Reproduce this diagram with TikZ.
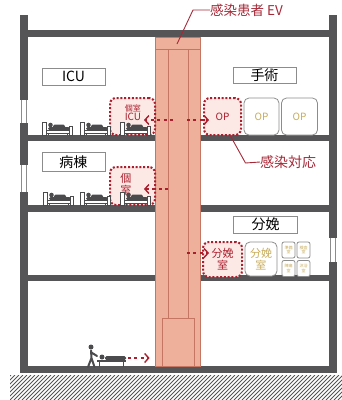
\documentclass[tikz,border=0pt]{standalone}
\usepackage{fontspec}
\setmainfont{Noto Sans CJK JP}
\usetikzlibrary{arrows.meta}

\definecolor{wallgray}{RGB}{85,85,88}
\definecolor{boxgray}{RGB}{140,140,140}
\definecolor{bedgray}{RGB}{75,75,78}
\definecolor{shaftfill}{RGB}{238,176,155}
\definecolor{shaftline}{RGB}{196,118,98}
\definecolor{infred}{RGB}{170,30,45}
\definecolor{infpink}{RGB}{252,232,228}
\definecolor{labelred}{RGB}{165,40,55}
\definecolor{optext}{RGB}{200,172,90}

\begin{document}
\begin{tikzpicture}[x=1pt, y=-1pt,
    areabox/.style={draw=boxgray, fill=white, line width=0.8pt, minimum width=63pt, minimum height=17pt, inner sep=0pt, font=\fontsize{14}{14}\selectfont},
    roombox/.style={draw=boxgray, fill=white, rounded corners=5pt, line width=0.8pt, inner sep=0pt, text=optext, align=center},
    infbox/.style={draw=infred, fill=infpink, rounded corners=6pt, line width=2pt, dash pattern=on 2pt off 1.8pt, inner sep=0pt, text=infred, align=center},
    infarrow/.style={infred, line width=2.8pt, dash pattern=on 2.8pt off 3.6pt, -{Straight Barb[length=4pt, width=9pt, line width=1.4pt]}},
    leader/.style={draw=labelred, line width=0.9pt},
    sickbed/.pic={
        \draw[draw=bedgray, fill=white, line width=0.5pt] (0,0) rectangle (4,-13);
        \draw[bedgray, line width=0.5pt] (6,-1.5) -- (6,0) (25,-1.5) -- (25,0);
        \draw[draw=bedgray, fill=white, line width=0.5pt] (4,-1.5) rectangle (30,-5);
        \draw[draw=bedgray, fill=white, line width=0.5pt] (27,0) rectangle (30,-9);
        \fill[bedgray, rounded corners=1.5pt] (6,-5) rectangle (28,-8);
        \fill[bedgray] (8.5,-10) circle (2.3);
        \fill[bedgray, rounded corners=1.5pt] (11,-7) rectangle (23,-10.5);
    },
    walker/.pic={
        \fill[bedgray] (4,-20) circle (2.5);
        \draw[bedgray, line width=2pt, line cap=round] (4,-16.5) -- (4.5,-9) -- (1,0) (4.5,-9) -- (7.5,0) (4.5,-14.5) -- (10,-11);
    },
    stretcher/.pic={
        \draw[bedgray, line width=1pt] (2,0) -- (2,-5) (26,0) -- (26,-5);
        \fill[bedgray] (0,-5) rectangle (29,-7);
        \fill[bedgray] (5,-10) circle (2.5);
        \fill[bedgray, rounded corners=1.5pt] (8,-7) rectangle (29,-11);
    }]
    \useasboundingbox (0,0) rectangle (342,400);

    % 地盤
    \begin{scope}
        \clip (10,375) rectangle (342,400);
        \foreach \i in {-30,-26,...,350}
            \draw[wallgray, line width=0.9pt] (\i,400) -- (\i+25,375);
    \end{scope}

    % 外壁と床
    \fill[wallgray] (20,15) rectangle (28,373);
    \fill[wallgray] (329,15) rectangle (337,373);
    \fill[wallgray] (20,30) rectangle (337,37);
    \fill[wallgray] (20,135) rectangle (337,141);
    \fill[wallgray] (20,205) rectangle (337,212);
    \fill[wallgray] (20,275) rectangle (337,281);
    \fill[wallgray] (20,366) rectangle (337,373);

    % 窓
    \foreach \ya/\yb in {100/123, 165/192} {
        \fill[white] (20,\ya) rectangle (28,\yb);
        \draw[boxgray, line width=0.6pt] (21.5,\ya) -- (21.5,\yb) (26.5,\ya) -- (26.5,\yb);
    }
    \fill[white] (329,238) rectangle (337,262);
    \draw[boxgray, line width=0.6pt] (330.5,238) -- (330.5,262) (335.5,238) -- (335.5,262);

    % 感染患者用EV
    \node[draw=shaftline, fill=shaftfill, line width=0.8pt, minimum width=45pt, minimum height=329pt, inner sep=0pt] (ev) at (177.5,201.5) {};
    \draw[shaftline, line width=0.8pt] (155,49) -- (200,49);
    \draw[shaftline, line width=0.8pt] (168,49) -- (168,318) (188,49) -- (188,318);
    \draw[shaftline, line width=0.8pt] (162,318) rectangle (194,366);

    % 見出し
    \node[areabox] (icu) at (73.5,76.5) {ICU};
    \node[areabox, minimum height=16pt] (surgery) at (264.5,75.5) {手術};
    \node[areabox, minimum height=19pt] (ward) at (73.5,162) {病棟};
    \node[areabox, minimum width=64pt] (birth) at (265.5,224.5) {分娩};

    % 手術室
    \node[infbox, minimum width=37pt, minimum height=37pt, font=\fontsize{10}{10}\selectfont] (op1) at (222.5,116.5) {OP};
    \node[roombox, minimum width=35pt, minimum height=37pt, font=\fontsize{10}{10}\selectfont] (op2) at (261.5,116.5) {OP};
    \node[roombox, minimum width=36pt, minimum height=37pt, font=\fontsize{10}{10}\selectfont] (op3) at (299.5,116.5) {OP};

    % 個室
    \node[infbox, minimum width=45pt, minimum height=37pt] (icuroom) at (132.5,116.5) {};
    \node[text=infred, align=center, inner sep=0pt, font=\fontsize{8}{9}\selectfont] (icutext) at (133,112.5) {個室\\\fontsize{10}{10}\selectfont ICU};
    \node[infbox, minimum width=45pt, minimum height=38pt] (private) at (132.5,186) {};
    \node[text=infred, align=center, inner sep=0pt, font=\fontsize{11}{12}\selectfont] (privtext) at (126,184) {個\\室};

    % 分娩室
    \node[infbox, minimum width=39pt, minimum height=35pt, font=\fontsize{11}{12}\selectfont] (lab1) at (222.5,259.5) {分娩\\室};
    \node[roombox, minimum width=32pt, minimum height=34pt, font=\fontsize{11}{12}\selectfont] (lab2) at (261,259) {分娩\\室};
    \node[roombox, rounded corners=2pt, minimum width=13pt, minimum height=16pt, font=\fontsize{4}{4.5}\selectfont] (prep) at (288.5,250) {準備\\室};
    \node[roombox, rounded corners=2pt, minimum width=13pt, minimum height=16pt, font=\fontsize{4}{4.5}\selectfont] (exam) at (303.5,250) {検査\\室};
    \node[roombox, rounded corners=2pt, minimum width=13pt, minimum height=16pt, font=\fontsize{4}{4.5}\selectfont] (labor) at (288.5,268.5) {陣痛\\室};
    \node[roombox, rounded corners=2pt, minimum width=13pt, minimum height=16pt, font=\fontsize{4}{4.5}\selectfont] (bath) at (303.5,268.5) {沐浴\\室};

    % ベッド
    \foreach \bx in {42,80,120}
        \pic at (\bx,135) {sickbed};
    \foreach \bx in {43,80,120}
        \pic at (\bx,205) {sickbed};

    % 搬送
    \pic at (87,367) {walker};
    \pic at (97,367) {stretcher};

    % 動線
    \coordinate (s3l) at (173,120);
    \coordinate (s3r) at (187,120);
    \coordinate (s2l) at (168,189);
    \coordinate (s1r) at (187,253);
    \coordinate (gnd) at (128,358);
    \draw[infarrow] (s3l) -- ([xshift=-12pt]icuroom.east |- s3l);
    \draw[infarrow] (s3r) -- ([xshift=6pt]op1.west |- s3r);
    \draw[infarrow] (s2l) -- ([xshift=-12pt]private.east |- s2l);
    \draw[infarrow] (s1r) -- ([xshift=7pt]lab1.west |- s1r);
    \draw[infarrow] (gnd) -- ([xshift=-5pt]ev.west |- gnd);

    % 引出し線
    \coordinate (evtop) at (177,44);
    \node[anchor=west, text=labelred, inner sep=0pt, font=\fontsize{13.5}{14}\selectfont] (evlabel) at (210,10) {感染患者 EV};
    \draw[leader] (evtop) -- ++(16,-34) -- (evlabel.west);
    \node[anchor=west, text=labelred, inner sep=0pt, font=\fontsize{14}{14}\selectfont] (inflabel) at (260,162) {感染対応};
    \draw[leader] ([xshift=8pt]op1.south) -- ++(15,27) -- (inflabel.west);
\end{tikzpicture}
\end{document}
